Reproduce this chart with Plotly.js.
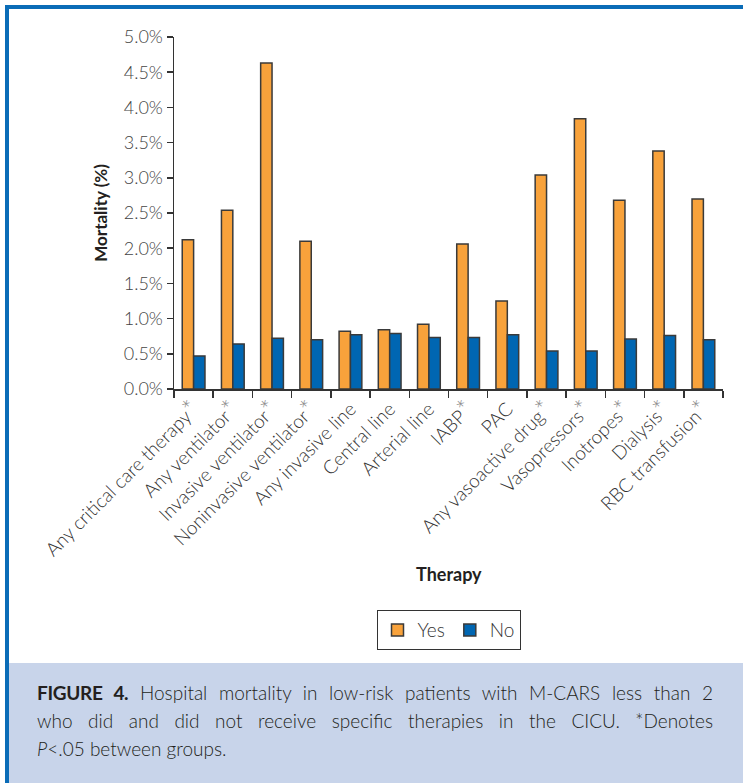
<!DOCTYPE html>
<html>
<head>
<meta charset="utf-8">
<script src="https://cdn.plot.ly/plotly-3.0.1.min.js"></script>
<style>
  html, body { margin: 0; padding: 0; background: #ffffff; }
  #page { position: relative; width: 743px; height: 783px; overflow: hidden; background: #fff; }
  #frame { position: absolute; left: 5px; top: 5px; width: 738px; height: 778px;
           border-top: 4px solid #0a6cb7; border-left: 4px solid #0a6cb7; box-sizing: border-box; }
  #chart { position: absolute; left: 9px; top: 9px; width: 734px; height: 654px; }
  #caption { position: absolute; left: 9px; top: 663px; width: 734px; height: 120px;
             background: #c8d4ea; box-sizing: border-box; padding: 16px 30px 0 28px;
             font-family: Lato, "Open Sans", sans-serif; font-weight: 300; font-size: 19px; line-height: 28px;
             color: #231f20; }
  #caption .j { text-align: justify; text-align-last: justify; white-space: nowrap; }
  #caption b { font-weight: 700; letter-spacing: -0.3px; }
</style>
</head>
<body>
<div id="page">
  <div id="frame"></div>
  <div id="chart"></div>
  <div id="caption">
    <div class="j"><b>FIGURE 4.</b> Hospital mortality in low-risk patients with M-CARS less than 2</div>
    <div class="j">who did and did not receive specific therapies in the CICU. *Denotes</div>
    <div><i>P</i>&lt;.05 between groups.</div>
  </div>
</div>
<script>
const categories = [
  "Any critical care therapy", "Any ventilator", "Invasive ventilator",
  "Noninvasive ventilator", "Any invasive line", "Central line", "Arterial line",
  "IABP", "PAC", "Any vasoactive drug", "Vasopressors", "Inotropes",
  "Dialysis", "RBC transfusion"
];
const significant = [true, true, true, true, false, false, false, true, false, true, true, true, true, true];
const yesValues = [2.12, 2.54, 4.63, 2.10, 0.82, 0.84, 0.92, 2.06, 1.25, 3.04, 3.84, 2.68, 3.38, 2.70];
const noValues  = [0.47, 0.64, 0.72, 0.70, 0.77, 0.79, 0.73, 0.73, 0.77, 0.54, 0.54, 0.71, 0.76, 0.70];
const yTicks = [0, 0.5, 1.0, 1.5, 2.0, 2.5, 3.0, 3.5, 4.0, 4.5, 5.0];

const labels = categories.map((c, i) =>
  significant[i] ? c + '<span style="font-size:25px;color:#8a8a8a">*</span>' : c);

const fontFam = 'Lato, "Open Sans", sans-serif';
const outline = { color: '#3a3a3a', width: 1.5 };

const traces = [
  { type: 'bar', name: 'Yes', x: labels, y: yesValues,
    marker: { color: '#f8a23b', line: outline } },
  { type: 'bar', name: 'No', x: labels, y: noValues,
    marker: { color: '#0066b2', line: outline } }
];

const layout = {
  width: 734, height: 654,
  margin: { l: 165, r: 20, t: 28, b: 274 },
  paper_bgcolor: '#ffffff', plot_bgcolor: '#ffffff',
  font: { family: fontFam, size: 17, color: '#333333', weight: 300 },
  barmode: 'group', bargap: 0.42, bargroupgap: 0,
  showlegend: true,
  legend: {
    orientation: 'h', x: 0.5, xanchor: 'center', y: -0.628, yanchor: 'top',
    bordercolor: '#333333', borderwidth: 1, font: { size: 19, color: '#333', weight: 300 },
    itemwidth: 30, tracegroupgap: 0
  },
  xaxis: {
    type: 'category', tickangle: -45, showline: true, linecolor: '#333333', linewidth: 1.5,
    ticks: 'outside', tickson: 'boundaries', ticklen: 7, tickcolor: '#333333', tickwidth: 1.5,
    showgrid: false, zeroline: false, tickfont: { size: 19, color: '#333', weight: 300 }
  },
  yaxis: {
    range: [0, 5.0], tickvals: yTicks, ticktext: yTicks.map(v => v.toFixed(1) + '%'),
    showline: true, linecolor: '#333333', linewidth: 1.5,
    ticks: 'outside', ticklen: 6, tickcolor: '#333333', tickwidth: 1.5,
    showgrid: false, zeroline: false, tickfont: { size: 18, color: '#444', weight: 300 }
  },
  annotations: [
    { text: '<b>Mortality (%)</b>', xref: 'paper', yref: 'paper', x: -0.158, y: 0.5,
      textangle: -90, showarrow: false, font: { size: 17, color: '#231f20' } },
    { text: '<b>Therapy</b>', xref: 'paper', yref: 'paper', x: 0.5, y: -0.563,
      showarrow: false, font: { size: 18, color: '#231f20' } }
  ]
};

Plotly.newPlot('chart', traces, layout, { displayModeBar: false, staticPlot: true });
</script>
</body>
</html>
